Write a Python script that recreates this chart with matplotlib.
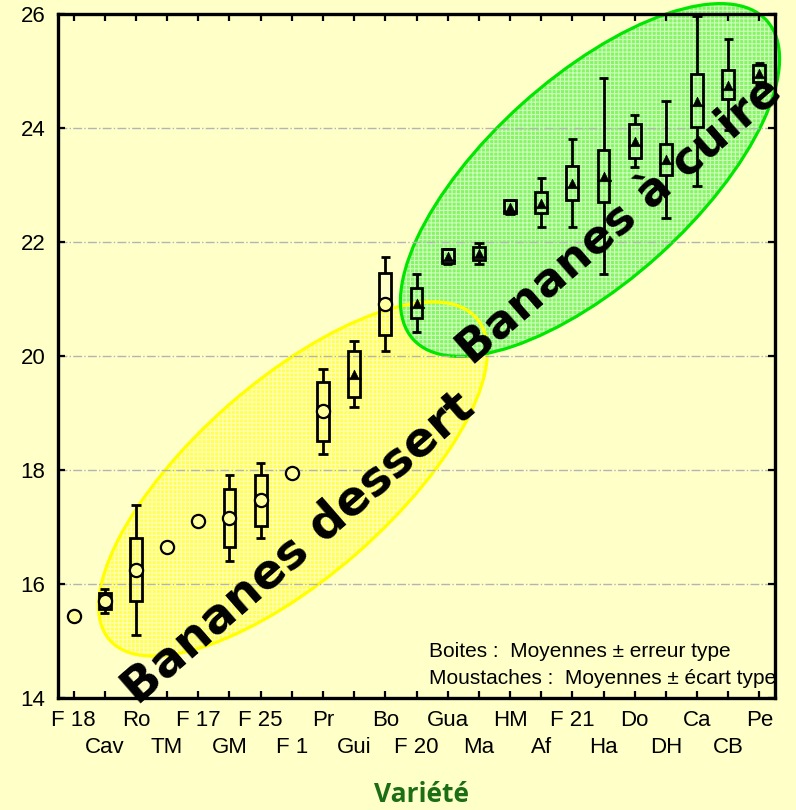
import matplotlib
matplotlib.use("Agg")
import matplotlib.pyplot as plt
from matplotlib.patches import Ellipse
from matplotlib.path import Path
import numpy as np

categories = ["F 18", "Cav", "Ro", "TM", "F 17", "GM", "F 25", "F 1", "Pr", "Gui",
              "Bo", "F 20", "Gua", "Ma", "HM", "Af", "F 21", "Ha", "Do", "DH",
              "Ca", "CB", "Pe"]
means = [15.43, 15.70, 16.25, 16.65, 17.11, 17.16, 17.47, 17.94, 19.03, 19.68,
         20.91, 20.93, 21.75, 21.80, 22.62, 22.69, 23.04, 23.16, 23.77, 23.45,
         24.48, 24.76, 24.96]
se = [0.0, 0.145, 0.555, 0.0, 0.0, 0.51, 0.445, 0.0, 0.52, 0.40,
      0.55, 0.26, 0.12, 0.12, 0.11, 0.18, 0.30, 0.45, 0.30, 0.27,
      0.47, 0.25, 0.15]
sd = [0.0, 0.21, 1.14, 0.0, 0.0, 0.76, 0.66, 0.0, 0.745, 0.58,
      0.83, 0.515, 0.13, 0.18, 0.12, 0.43, 0.77, 1.72, 0.45, 1.03,
      1.49, 0.80, 0.18]
marker_kind = ["o", "o", "o", "o", "o", "o", "o", "o", "o", "^",
               "o", "^", "^", "^", "^", "^", "^", "^", "^", "^",
               "^", "^", "^"]
yticks = [14, 16, 18, 20, 22, 24, 26]

W, H = 796, 810
BG = "#ffffc8"

fig = plt.figure(figsize=(W / 100, H / 100), dpi=100, facecolor=BG)
ax = fig.add_axes([58 / W, 1 - 698 / H, (775 - 58) / W, (698 - 14) / H])
ax.set_facecolor(BG)

def px(x, y):
    return (x / W, 1 - y / H)

plt.rcParams['hatch.linewidth'] = 0.8
def add_ellipse(cx, cy, a, b, ang, face, hatchcol, edge):
    e1 = Ellipse((cx / 100, (H - cy) / 100), 2 * a / 100, 2 * b / 100, angle=ang,
                 transform=fig.dpi_scale_trans, facecolor=face, edgecolor=hatchcol,
                 hatch="++++", linewidth=0, clip_on=False, zorder=0.2)
    ax.add_patch(e1)
    e2 = Ellipse((cx / 100, (H - cy) / 100), 2 * a / 100, 2 * b / 100, angle=ang,
                 transform=fig.dpi_scale_trans, facecolor="none", edgecolor=edge,
                 linewidth=2.3, clip_on=False, zorder=0.25)
    ax.add_patch(e2)

add_ellipse(293, 479, 244, 98, 41.3, "#ffff58", "#ffffb8", "#ffff00")
add_ellipse(590, 180, 238, 102, 42.0, "#86f464", "#ccffbc", "#00e600")

x = np.arange(len(categories))
m = np.array(means)
s = np.array(se)
d = np.array(sd)

has = s > 0
ax.bar(x[has], 2 * s[has], bottom=m[has] - s[has], width=0.38, fill=False,
       edgecolor="black", linewidth=2.0, zorder=3)
hw = d > 0
ax.vlines(x[hw], m[hw] + s[hw], m[hw] + d[hw], color="black", linewidth=2.0, zorder=3)
ax.vlines(x[hw], m[hw] - d[hw], m[hw] - s[hw], color="black", linewidth=2.0, zorder=3)
ax.hlines(m[hw] + d[hw], x[hw] - 0.15, x[hw] + 0.15, color="black", linewidth=2.0, zorder=3)
ax.hlines(m[hw] - d[hw], x[hw] - 0.15, x[hw] + 0.15, color="black", linewidth=2.0, zorder=3)

tri = Path([(-0.45, -0.42), (0.45, -0.42), (0.0, 0.5), (-0.45, -0.42),
            (-0.8, -0.6), (0.8, -0.6), (0.8, -0.42), (-0.8, -0.42), (-0.8, -0.6)],
           [Path.MOVETO, Path.LINETO, Path.LINETO, Path.CLOSEPOLY,
            Path.MOVETO, Path.LINETO, Path.LINETO, Path.LINETO, Path.CLOSEPOLY])
mk = np.array(marker_kind)
ci = mk == "o"
ax.plot(x[ci], m[ci], linestyle="none", marker="o", markersize=9.5,
        markerfacecolor="#ffffa0", markeredgecolor="black", markeredgewidth=1.6, zorder=4)
ti = mk == "^"
ax.plot(x[ti], m[ti], linestyle="none", marker=tri, markersize=10,
        markerfacecolor="black", markeredgecolor="black", markeredgewidth=0.5, zorder=4)

ax.set_xlim(-0.5, len(categories) - 0.5)
ax.set_ylim(14, 26)
ax.set_yticks(yticks)
ax.set_yticklabels([str(v) for v in yticks])
ax.set_xticks(x[0::2])
ax.set_xticklabels(categories[0::2])
ax.set_xticks(x[1::2], minor=True)
ax.set_xticklabels(categories[1::2], minor=True)

ax.set_axisbelow(True)
ax.grid(axis="y", color="#b4b4b4", linestyle="-.", linewidth=1.0, zorder=0.5)
ax.grid(axis="x", visible=False)

for sp in ax.spines.values():
    sp.set_linewidth(2.4)
    sp.set_color("black")
    sp.set_zorder(2.5)

ax.tick_params(axis="both", which="both", direction="in", length=5, width=1.6,
               top=True, right=True, labelsize=16, colors="black")
ax.tick_params(axis="x", which="major", pad=9)
ax.tick_params(axis="x", which="minor", pad=28)
ax.tick_params(axis="y", pad=9)
for lab in (ax.get_xticklabels() + ax.get_xticklabels(minor=True)
            + ax.get_yticklabels()):
    lab.set_fontfamily("Liberation Sans")

fig.text(*px(298, 548), "Bananes dessert", fontsize=34.5, fontweight="bold",
         family="DejaVu Sans", rotation=41, ha="center", va="center",
         rotation_mode="anchor", color="black", zorder=10)
fig.text(*px(620, 222), "Bananes à cuire", fontsize=33, fontweight="bold",
         family="DejaVu Sans", rotation=41, ha="center", va="center",
         rotation_mode="anchor", color="black", zorder=10)

fig.text(*px(429, 657), "Boites :  Moyennes ± erreur type", fontsize=15,
         family="Liberation Sans", ha="left", va="baseline", color="black", zorder=10)
fig.text(*px(429, 684), "Moustaches :  Moyennes ± écart type", fontsize=15,
         family="Liberation Sans", ha="left", va="baseline", color="black", zorder=10)

fig.text(*px(422, 795), "Variété", fontsize=19, fontweight="bold",
         family="Open Sans", ha="center", va="center", color="#1c6e14")

fig.savefig("out.png", dpi=100, facecolor=BG)
